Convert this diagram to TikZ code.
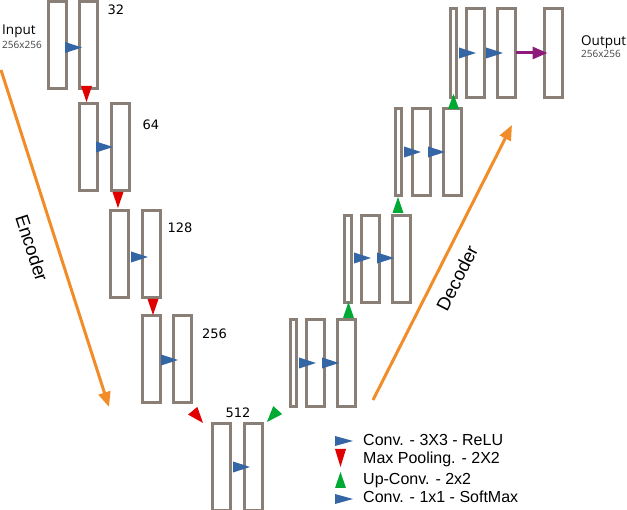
\documentclass[tikz,border=0pt]{standalone}
\usepackage{fontspec}
\setmainfont{Liberation Sans}
\newfontfamily\numfont{DejaVu Sans}
\newfontfamily\iofont{Open Sans}
\usetikzlibrary{arrows.meta}
\definecolor{boxgray}{HTML}{8A7F77}
\definecolor{convblue}{HTML}{3465A4}
\definecolor{poolred}{HTML}{E00000}
\definecolor{upgreen}{HTML}{00A933}
\definecolor{arrorange}{HTML}{F28C28}
\definecolor{softpurple}{HTML}{8E1B7B}
\newcommand{\mytri}[5]{\fill[#1,shift={#2},rotate=#3] (0,0) -- (-#4,#5) -- (-#4,-#5) -- cycle;}
\begin{document}
\begin{tikzpicture}[x=1pt,y=-1pt,
  box/.style={draw=boxgray, line width=3pt, minimum height=87pt, inner sep=0pt, outer sep=0pt},
  wide/.style={box, minimum width=18pt},
  thinbox/.style={box, minimum width=6.5pt},
  numlab/.style={font=\numfont\fontsize{13}{15}\selectfont, inner sep=0pt},
  iolab/.style={font=\iofont\fontsize{13.5}{15}\selectfont, inner sep=0pt, anchor=base west},
  iosize/.style={font=\iofont\fontsize{10}{12}\selectfont, inner sep=0pt, anchor=base west, text=black!75},
  leg/.style={font=\fontsize{16}{18}\selectfont, inner sep=0pt, anchor=base west},
  phase/.style={font=\fontsize{18.5}{20}\selectfont, inner sep=0pt},
  bigarrow/.style={draw=arrorange, line width=3pt, -{Triangle[length=15pt,width=12pt]}}
]
\useasboundingbox (0,0) rectangle (627,510);
% encoder
\node[wide] (e1a) at (57.5,45.5) {};
\node[wide] (e1b) at (88.5,45.5) {};
\node[wide] (e2a) at (88.5,147) {};
\node[wide] (e2b) at (120,147) {};
\node[wide] (e3a) at (119.5,254) {};
\node[wide] (e3b) at (151.5,254) {};
\node[wide] (e4a) at (151.5,359) {};
\node[wide] (e4b) at (182.5,359) {};
\node[wide] (e5a) at (221.5,467) {};
\node[wide] (e5b) at (253,467) {};
% decoder
\node[thinbox] (d4t) at (293.5,363) {};
\node[wide] (d4b) at (315,363) {};
\node[wide] (d4c) at (346.5,363) {};
\node[thinbox] (d3t) at (348,259) {};
\node[wide] (d3b) at (370,259) {};
\node[wide] (d3c) at (401,259) {};
\node[thinbox] (d2t) at (398.5,152) {};
\node[wide] (d2b) at (421,152) {};
\node[wide] (d2c) at (452,152) {};
\node[thinbox, minimum height=89pt] (d1t) at (453.5,53) {};
\node[wide, minimum height=89pt] (d1b) at (475,53) {};
\node[wide, minimum height=89pt] (d1c) at (506.5,53) {};
\node[wide, minimum height=89pt] (out) at (553.5,53) {};
% conv triangles
\mytri{convblue}{(82,47.5)}{0}{17}{5.5}
\mytri{convblue}{(113,147)}{0}{17}{5.5}
\mytri{convblue}{(148,257)}{0}{17}{5.5}
\mytri{convblue}{(178,360)}{0}{17}{5.5}
\mytri{convblue}{(250,467)}{0}{17}{5.5}
\mytri{convblue}{(316,363)}{0}{17}{5.5}
\mytri{convblue}{(339,363)}{0}{17}{5.5}
\mytri{convblue}{(371,258)}{0}{17}{5.5}
\mytri{convblue}{(394,258)}{0}{17}{5.5}
\mytri{convblue}{(421,152)}{0}{17}{5.5}
\mytri{convblue}{(445,152)}{0}{17}{5.5}
\mytri{convblue}{(476,53)}{0}{17}{5.5}
\mytri{convblue}{(503,53)}{0}{17}{5.5}
% pooling
\mytri{poolred}{(86.5,102)}{-90}{16}{5.5}
\mytri{poolred}{(118,208)}{-90}{16}{5.5}
\mytri{poolred}{(153,315)}{-90}{16}{5.5}
\mytri{poolred}{(203,423)}{-50}{16}{6}
% up-conv
\mytri{upgreen}{(267,422)}{-132}{16}{6}
\mytri{upgreen}{(348.5,302)}{90}{16}{5.5}
\mytri{upgreen}{(398,197)}{90}{16}{5.5}
\mytri{upgreen}{(453.5,94)}{90}{15}{5.5}
% softmax
\draw[softpurple, line width=3pt, -{Triangle[length=15pt,width=12pt]}, shorten >=-3pt] (d1c.east) -- (out.west);
% labels
\node[numlab] (l32) at (116,10) {32};
\node[numlab] (l64) at (151,125) {64};
\node[numlab] (l128) at (180,228) {128};
\node[numlab] (l256) at (214.5,334) {256};
\node[numlab] (l512) at (238,413) {512};
\node[iolab] (inp) at (2,35) {Input};
\node[iosize] (inps) at (2,49) {256x256};
\node[iolab] (outp) at (581,46) {Output};
\node[iosize] (outs) at (581,58) {256x256};
% encoder / decoder arrows
\coordinate (encS) at (1,70);
\coordinate (encE) at (109,407);
\draw[bigarrow] (encS) -- (encE);
\coordinate (decS) at (373,400);
\coordinate (decE) at (512,125);
\draw[bigarrow] (decS) -- (decE);
\node[phase, rotate=-72] (enc) at (32,248) {Encoder};
\node[phase, rotate=63] (dec) at (457,278) {Decoder};
% legend
\mytri{convblue}{(353,441)}{0}{18}{5}
\node[leg] (lg1) at (363,446) {Conv. - 3X3 - ReLU};
\mytri{poolred}{(340.5,467)}{-90}{18}{5.5}
\node[leg] (lg2) at (363,464) {Max Pooling. - 2X2};
\mytri{upgreen}{(340.5,472)}{90}{16}{5.5}
\node[leg] (lg3) at (363,485) {Up-Conv. - 2x2};
\mytri{convblue}{(353,499)}{0}{18}{5}
\node[leg] (lg4) at (363,503) {Conv. - 1x1 - SoftMax};
\end{tikzpicture}
\end{document}
